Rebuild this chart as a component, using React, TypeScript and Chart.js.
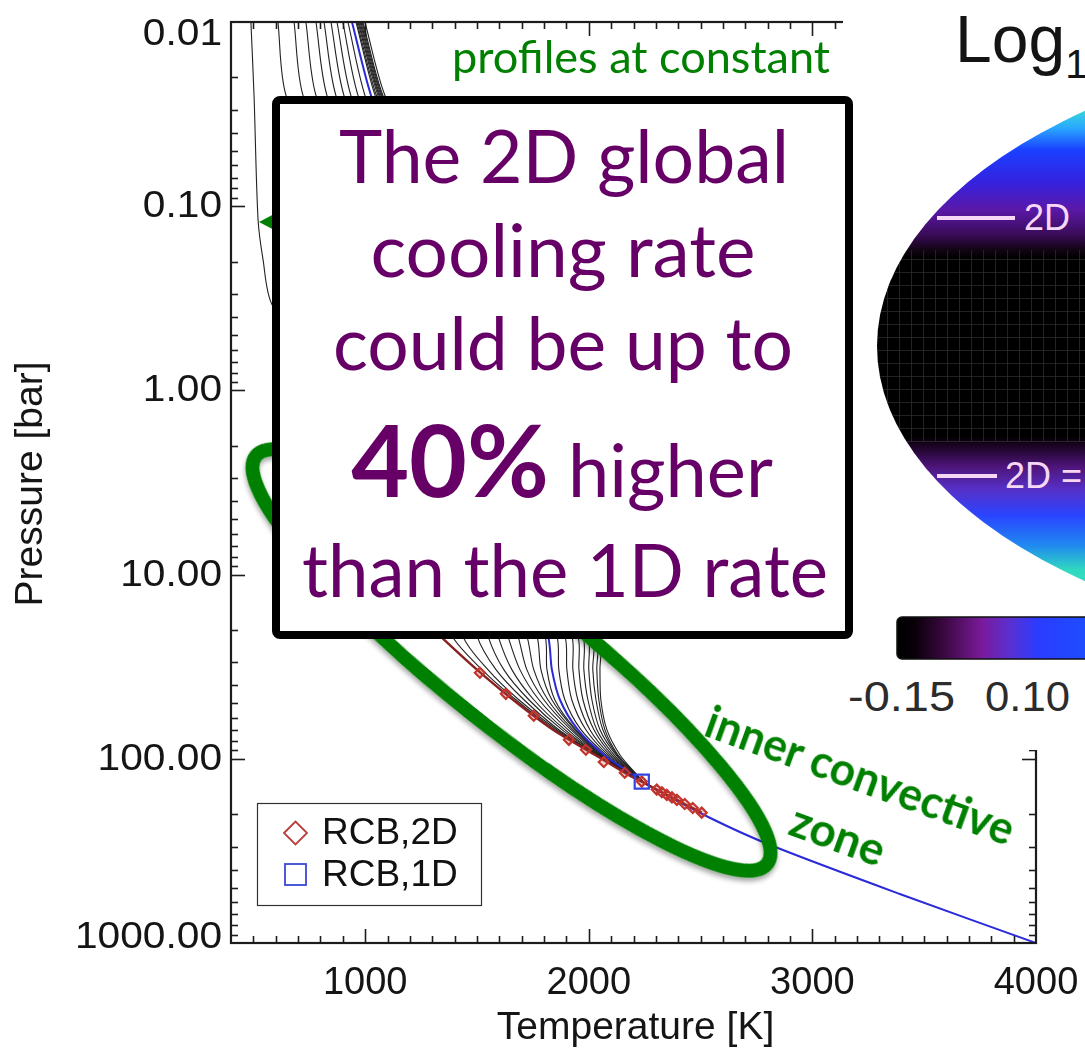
import React, { useEffect, useRef } from "react";
import { Chart, registerables } from "chart.js";

Chart.register(...registerables);

// ---- axis ticks ----
const temperatureTicks = [1000, 2000, 3000, 4000];
const pressureTicks = [0.01, 0.1, 1, 10, 100, 1000];
const pressureTickLabels = ["0.01", "0.10", "1.00", "10.00", "100.00", "1000.00"];

// ---- pressure levels (bar) at which the profiles are sampled ----
const upperPressures = [0.01, 0.025];
const deepPressures = [21.5, 32.8, 47.8, 69.5, 95, 122, 133];

// the coolest profile is sampled more densely in the upper atmosphere
const coolestMidPressures = [0.118, 0.194, 0.341];
const coolestMidTemps = [521, 543, 583];

// 2D profiles: temperature (K) at upperPressures
const profileUpperTemps = [
  [489, 503],
  [610, 646],
  [682, 722],
  [735, 780],
  [780, 829],
  [816, 869],
  [847, 905],
  [874, 936],
  [900, 968],
  [923, 999],
  [959, 1044],
  [963, 1050],
  [968, 1057],
  [972, 1062],
  [977, 1066],
  [981, 1071],
  [986, 1075],
  [990, 1079],
  [999, 1088],
];

// 2D profiles: temperature (K) at deepPressures
const profileDeepTemps = [
  [1388, 1522, 1674, 1848, 2032, 2179, 2237],
  [1437, 1549, 1687, 1857, 2036, 2179, 2237],
  [1500, 1585, 1710, 1866, 2036, 2179, 2237],
  [1549, 1620, 1732, 1880, 2041, 2184, 2237],
  [1594, 1656, 1754, 1893, 2041, 2184, 2237],
  [1638, 1692, 1777, 1907, 2045, 2184, 2237],
  [1683, 1723, 1799, 1920, 2050, 2188, 2237],
  [1723, 1754, 1817, 1929, 2054, 2188, 2237],
  [1768, 1786, 1835, 1938, 2058, 2193, 2237],
  [1804, 1813, 1848, 1942, 2063, 2193, 2237],
  [1857, 1866, 1893, 1965, 2076, 2197, 2237],
  [1893, 1902, 1924, 1987, 2085, 2202, 2237],
  [1924, 1929, 1951, 2005, 2094, 2202, 2237],
  [1951, 1956, 1974, 2023, 2103, 2206, 2242],
  [1974, 1978, 1996, 2036, 2112, 2206, 2242],
  [1996, 2000, 2014, 2050, 2121, 2210, 2242],
  [2018, 2018, 2032, 2063, 2126, 2210, 2242],
  [2036, 2036, 2045, 2072, 2130, 2215, 2242],
  [2050, 2050, 2054, 2081, 2139, 2215, 2242],
];

// 1D profile
const oneDUpperTemps = [941, 1026];
const oneDDeepTemps = [1817, 1835, 1871, 1951, 2067, 2197, 2237];
const adiabatPressures = [209, 293, 542, 1000];
const adiabatTemps = [2541, 2809, 3391, 4000];

// locus of the 2D radiative-convective boundaries
const rcb2dLinePressures = [13.7, 21.5, 32.8, 47.8, 69.5, 95, 122, 133, 147, 157, 167, 176, 185, 196];
const rcb2dLineTemps = [1155, 1334, 1500, 1661, 1840, 2027, 2175, 2237, 2304, 2349, 2394, 2429, 2465, 2505];
const rcb2dPressures = [34.1, 44.4, 58.4, 78.9, 89.3, 104, 119, 133, 147, 152, 157, 162, 167, 176, 185, 196];
const rcb2dTemps = [1513, 1629, 1754, 1911, 1987, 2067, 2161, 2237, 2304, 2327, 2349, 2372, 2394, 2429, 2465, 2505];
const rcb1dPressures = [133];
const rcb1dTemps = [2237];

const pts = (ps: number[], ts: number[]) => ps.map((p, i) => ({ x: ts[i], y: p }));

const AXIS_FONT = "'Liberation Sans', Arimo, Helvetica, Arial, sans-serif";

function buildDatasets() {
  const sets: any[] = [];
  sets.push({
    label: "RCB,1D",
    data: pts(rcb1dPressures, rcb1dTemps),
    showLine: false,
    pointStyle: "rect",
    pointRadius: 10,
    borderColor: "#3344e0",
    backgroundColor: "rgba(0,0,0,0)",
    borderWidth: 2.2,
  });
  sets.push({
    label: "RCB,2D",
    data: pts(rcb2dPressures, rcb2dTemps),
    showLine: false,
    pointStyle: "rectRot",
    pointRadius: 5,
    borderColor: "#c2342c",
    backgroundColor: "rgba(190,60,60,0.25)",
    borderWidth: 2.2,
  });
  sets.push({
    label: "RCB 2D locus",
    data: pts(rcb2dLinePressures, rcb2dLineTemps),
    borderColor: "#8a2020",
    borderWidth: 2.4,
    pointRadius: 0,
    tension: 0.3,
  });
  sets.push({
    label: "1D profile",
    data: [
      ...pts(upperPressures, oneDUpperTemps),
      ...pts(deepPressures, oneDDeepTemps),
      ...pts(adiabatPressures, adiabatTemps),
    ],
    borderColor: "#2a2ad8",
    borderWidth: 2,
    pointRadius: 0,
    tension: 0.3,
  });
  profileUpperTemps.forEach((upper, i) => {
    const data = [...pts(upperPressures, upper)];
    if (i === 0) data.push(...pts(coolestMidPressures, coolestMidTemps));
    data.push(...pts(deepPressures, profileDeepTemps[i]));
    sets.push({
      label: "2D profile " + (i + 1),
      data,
      borderColor: "#222222",
      borderWidth: 1.1,
      pointRadius: 0,
      tension: 0.3,
    });
  });
  return sets;
}

// IDL-style frame with inward ticks, tick labels, titles and legend
const framePlugin = {
  id: "idlFrame",
  afterDatasetsDraw(chart: any) {
    const { ctx, chartArea: a, scales } = chart;
    const xs = scales.x;
    const ys = scales.y;
    ctx.save();
    ctx.strokeStyle = "#1c1c1c";
    ctx.lineCap = "butt";

    const seg = (x1: number, y1: number, x2: number, y2: number) => {
      ctx.beginPath();
      ctx.moveTo(x1, y1);
      ctx.lineTo(x2, y2);
      ctx.stroke();
    };

    // temperature ticks every 100 K, major every 1000 K
    ctx.lineWidth = 1.6;
    for (let t = xs.min + 100; t < xs.max; t += 100) {
      const px = Math.round(xs.getPixelForValue(t)) + 0.5;
      const len = t % 1000 === 0 ? 14 : 7;
      seg(px, a.bottom, px, a.bottom - len);
      seg(px, a.top, px, a.top + len);
    }
    // pressure ticks: decades major, 2..9 minor
    for (let e = -2; e < 3; e++) {
      for (let k = 1; k < 10; k++) {
        const v = k * Math.pow(10, e);
        const py = Math.round(ys.getPixelForValue(v)) + 0.5;
        const len = k === 1 ? 14 : 7;
        if (k === 1 && e === -2) continue;
        seg(a.left, py, a.left + len, py);
        seg(a.right, py, a.right - len, py);
      }
    }

    // frame
    ctx.lineWidth = 2.2;
    ctx.strokeRect(a.left, a.top, a.right - a.left, a.bottom - a.top);

    // tick labels
    ctx.fillStyle = "#151515";
    ctx.font = `36px ${AXIS_FONT}`;
    ctx.textAlign = "right";
    ctx.textBaseline = "middle";
    pressureTicks.forEach((v, i) => {
      let py = ys.getPixelForValue(v);
      py = Math.min(Math.max(py, a.top + 12), a.bottom - 6);
      ctx.save();
      ctx.translate(222, py + 1);
      ctx.scale(1.13, 1);
      ctx.fillText(pressureTickLabels[i], 0, 0);
      ctx.restore();
    });
    ctx.font = `38px ${AXIS_FONT}`;
    ctx.textAlign = "center";
    ctx.textBaseline = "alphabetic";
    temperatureTicks.forEach((t) => {
      ctx.fillText(String(t), xs.getPixelForValue(t), 994);
    });

    // axis titles
    ctx.font = `39px ${AXIS_FONT}`;
    ctx.fillText("Temperature [K]", (a.left + a.right) / 2 + 2, 1039);
    ctx.save();
    ctx.translate(31, 484);
    ctx.rotate(-Math.PI / 2);
    ctx.textBaseline = "middle";
    ctx.fillText("Pressure [bar]", 0, 0);
    ctx.restore();

    // legend
    ctx.fillStyle = "#ffffff";
    ctx.fillRect(257, 803, 224, 102);
    ctx.strokeStyle = "#333333";
    ctx.lineWidth = 1.2;
    ctx.strokeRect(257.5, 803.5, 224, 102);
    ctx.lineWidth = 1.8;
    ctx.strokeStyle = "#b8403a";
    ctx.beginPath();
    ctx.moveTo(284, 833);
    ctx.lineTo(295.5, 821.5);
    ctx.lineTo(307, 833);
    ctx.lineTo(295.5, 844.5);
    ctx.closePath();
    ctx.stroke();
    ctx.strokeStyle = "#3a48d8";
    ctx.strokeRect(285, 864, 21, 21);
    ctx.fillStyle = "#111111";
    ctx.font = `37px ${AXIS_FONT}`;
    ctx.textAlign = "left";
    ctx.fillText("RCB,2D", 322, 844);
    ctx.fillText("RCB,1D", 322, 886);
    ctx.restore();
  },
};

function ProfileChart() {
  const ref = useRef<HTMLCanvasElement | null>(null);
  useEffect(() => {
    if (!ref.current) return;
    const chart = new Chart(ref.current, {
      type: "line",
      data: { datasets: buildDatasets() },
      options: {
        animation: false,
        responsive: false,
        devicePixelRatio: 1,
        layout: { padding: { left: 231, top: 22, right: 49, bottom: 110 } },
        plugins: { legend: { display: false }, tooltip: { enabled: false } },
        scales: {
          x: { type: "linear", min: 400, max: 4000, display: false },
          y: { type: "logarithmic", min: 0.01, max: 1000, reverse: true, display: false },
        },
      },
      plugins: [framePlugin],
    });
    return () => chart.destroy();
  }, []);
  return (
    <canvas
      ref={ref}
      width={1085}
      height={1053}
      style={{ position: "absolute", left: 0, top: 0 }}
    />
  );
}

const SANS = "Lato, 'Open Sans', sans-serif";
const PURPLE = "#660066";
const GREEN = "#008000";

function Annotations() {
  return (
    <svg
      width={1085}
      height={1053}
      style={{ position: "absolute", left: 0, top: 0 }}
      xmlns="http://www.w3.org/2000/svg"
    >
      <defs>
        <filter id="soft" x="-20%" y="-20%" width="140%" height="140%">
          <feDropShadow dx="2" dy="3" stdDeviation="2.5" floodColor="#000" floodOpacity="0.35" />
        </filter>
        <linearGradient id="mapBands" gradientUnits="userSpaceOnUse" x1="0" y1="28" x2="0" y2="664">
          <stop offset="0" stopColor="#70ffd0" />
          <stop offset="0.113" stopColor="#40f0c8" />
          <stop offset="0.157" stopColor="#2aa8ff" />
          <stop offset="0.192" stopColor="#1a40ff" />
          <stop offset="0.242" stopColor="#3422e0" />
          <stop offset="0.286" stopColor="#5a18a8" />
          <stop offset="0.325" stopColor="#3a0c58" />
          <stop offset="0.349" stopColor="#120414" />
          <stop offset="0.362" stopColor="#000000" />
          <stop offset="0.642" stopColor="#000000" />
          <stop offset="0.657" stopColor="#1a0422" />
          <stop offset="0.689" stopColor="#4e1478" />
          <stop offset="0.726" stopColor="#5630c8" />
          <stop offset="0.766" stopColor="#2a44ff" />
          <stop offset="0.813" stopColor="#2088f0" />
          <stop offset="0.852" stopColor="#30d8c0" />
          <stop offset="1" stopColor="#70ffd0" />
        </linearGradient>
        <linearGradient id="cbar" gradientUnits="userSpaceOnUse" x1="897" y1="0" x2="1085" y2="0">
          <stop offset="0" stopColor="#000000" />
          <stop offset="0.1" stopColor="#0a000a" />
          <stop offset="0.25" stopColor="#3a0840" />
          <stop offset="0.45" stopColor="#7a1a9a" />
          <stop offset="0.6" stopColor="#5a30d0" />
          <stop offset="0.75" stopColor="#2a3cff" />
          <stop offset="1" stopColor="#1f4cff" />
        </linearGradient>
        <pattern id="mapGrid" width="12" height="13" patternUnits="userSpaceOnUse">
          <path d="M11.5 0 V13 M0 12.5 H12" stroke="#3c3c3c" strokeWidth="0.8" fill="none" />
        </pattern>
        <clipPath id="mapClip">
          <ellipse cx="1513" cy="346" rx="636" ry="318" />
        </clipPath>
      </defs>

      {/* neighbouring map panel */}
      <rect x="843" y="0" width="242" height="750" fill="#ffffff" />
      <text x="955" y="62" fontFamily={AXIS_FONT} fontSize="66" fill="#141414">
        Log<tspan fontSize="40" dy="16">10</tspan>
      </text>
      <g clipPath="url(#mapClip)">
        <rect x="870" y="20" width="215" height="660" fill="url(#mapBands)" />
        <rect x="870" y="250" width="215" height="192" fill="url(#mapGrid)" opacity="0.7" />
      </g>
      <g stroke="#f6d8f6" strokeWidth="4">
        <line x1="937" y1="218" x2="1015" y2="218" />
        <line x1="937" y1="476" x2="997" y2="476" />
      </g>
      <g fontFamily={AXIS_FONT} fontSize="36" fill="#f6d8f6">
        <text x="1024" y="230">2D</text>
        <text x="1005" y="488">2D =</text>
      </g>
      <rect x="897" y="617" width="200" height="42" rx="5" fill="url(#cbar)" stroke="#111" strokeWidth="1.5" />
      <g fontFamily={AXIS_FONT} fontSize="42" fill="#2c2c2c">
        <text x="848" y="711" textLength="107" lengthAdjust="spacingAndGlyphs">-0.15</text>
        <text x="985" y="711" textLength="85" lengthAdjust="spacingAndGlyphs">0.10</text>
      </g>

      {/* highlight of the inner convective zone */}
      <ellipse
        cx="511.5"
        cy="660"
        rx="327"
        ry="67"
        transform="rotate(38.6 511.5 660)"
        fill="none"
        stroke={GREEN}
        strokeWidth="14"
        filter="url(#soft)"
      />
      <polygon points="259,222 278,212 278,232" fill={GREEN} />

      <text x="452" y="73" fontFamily={SANS} fontSize="45" fill={GREEN} textLength="378" lengthAdjust="spacingAndGlyphs">
        profiles at constant
      </text>

      {/* message box */}
      <rect x="276" y="100" width="573" height="535" rx="4" fill="#ffffff" stroke="#000" strokeWidth="8" />
      <g fontFamily={SANS} fill={PURPLE} textAnchor="middle">
        <text x="564" y="183" fontSize="74" textLength="450" lengthAdjust="spacingAndGlyphs">The 2D global</text>
        <text x="563" y="277" fontSize="74" textLength="385" lengthAdjust="spacingAndGlyphs">cooling rate</text>
        <text x="563" y="370" fontSize="74" textLength="460" lengthAdjust="spacingAndGlyphs">could be up to</text>
        <text x="562" y="497" fontSize="74">
          <tspan fontWeight="700" fontSize="100">40%</tspan>
          <tspan> higher</tspan>
        </text>
        <text x="565" y="597" fontSize="74" textLength="526" lengthAdjust="spacingAndGlyphs">than the 1D rate</text>
      </g>

      {/* convective zone label */}
      <g transform="translate(702 735) rotate(20)" fontFamily={SANS} fontWeight="700" fontSize="46" fill={GREEN}>
        <text x="0" y="0" textLength="325" lengthAdjust="spacingAndGlyphs">inner convective</text>
        <text x="162" y="64" textAnchor="middle">zone</text>
      </g>
    </svg>
  );
}

export default function App() {
  return (
    <div
      style={{
        position: "absolute",
        left: 0,
        top: 0,
        width: 1085,
        height: 1053,
        overflow: "hidden",
        background: "#ffffff",
      }}
    >
      <ProfileChart />
      <Annotations />
    </div>
  );
}
